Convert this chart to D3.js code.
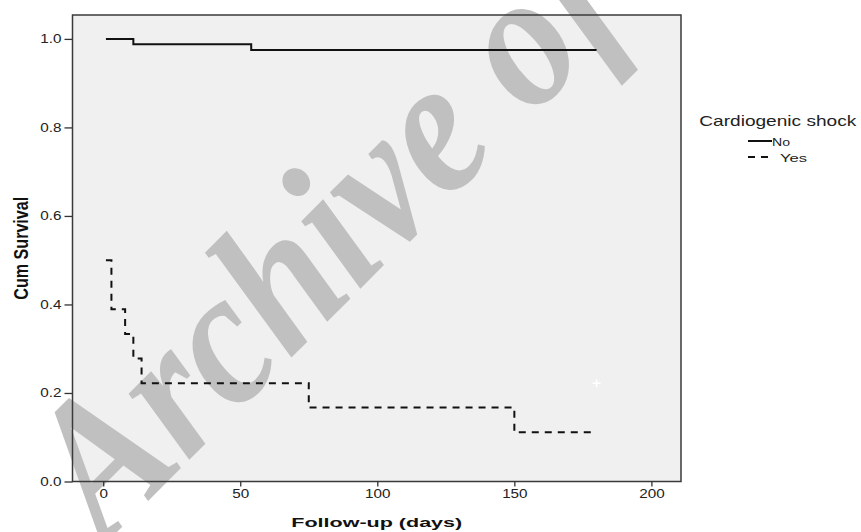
<!DOCTYPE html>
<html lang="en">

<head>
    <meta charset="UTF-8">
    <title>Cardiogenic shock survival</title>
    <script src="https://d3js.org/d3.v7.min.js"></script>
    <style>
        body {
            margin: 0;
            padding: 0;
            background-color: #fff;
            font-family: "Liberation Sans", Arial, sans-serif;
        }

        svg {
            display: block;
        }

        .watermark {
            font-family: "Liberation Serif", "DejaVu Serif", serif;
            font-style: italic;
            font-weight: bold;
        }
    </style>
</head>

<body>
    <svg id="chart" width="861" height="532"></svg>

    <script>
        // follow-up days where each curve steps, and the survival value from that day on
        var noDays = [1, 11, 54, 180];
        var noSurv = [1.0, 0.988, 0.975, 0.975];
        var yesDays = [1, 3, 8, 11, 14, 75, 150, 180];
        var yesSurv = [0.5, 0.389, 0.333, 0.278, 0.222, 0.167, 0.111, 0.111];
        var censorDays = [180];
        var censorSurv = [0.222];

        var xTicks = [0, 50, 100, 150, 200];
        var yTicks = [0, 0.2, 0.4, 0.6, 0.8, 1.0];
        var groups = ["No", "Yes"];

        function drawChart() {
            var svg = d3.select("#chart");
            var pLeft = 72.5, pRight = 681, pTop = 15, pBottom = 481.5;

            var x = d3.scaleLinear().domain([-11.2, 210.8]).range([pLeft, pRight]);
            var y = d3.scaleLinear().domain([0, 1.054]).range([pBottom, pTop]);

            // plot background
            svg.append("rect")
                .attr("x", pLeft).attr("y", pTop)
                .attr("width", pRight - pLeft).attr("height", pBottom - pTop)
                .attr("fill", "#f0f0f0");

            // watermark, sits under everything else
            var wm = svg.append("text")
                .attr("class", "watermark")
                .attr("transform", "translate(105,544) rotate(-45)")
                .attr("font-size", 195)
                .attr("fill", "#c0c0c0")
                .text("Archive of SID");
            wm.attr("textLength", wm.node().getComputedTextLength() * 0.89)
                .attr("lengthAdjust", "spacingAndGlyphs");

            // frame
            svg.append("rect")
                .attr("x", pLeft).attr("y", pTop)
                .attr("width", pRight - pLeft).attr("height", pBottom - pTop)
                .attr("fill", "none")
                .attr("stroke", "#3a3a3a")
                .attr("stroke-width", 1.5);

            function widen(sel, k) {
                sel.each(function () {
                    var w = this.getComputedTextLength();
                    d3.select(this).attr("textLength", w * k).attr("lengthAdjust", "spacingAndGlyphs");
                });
            }

            var yAxis = svg.append("g")
                .attr("transform", "translate(" + pLeft + ",0)")
                .call(d3.axisLeft(y).tickValues(yTicks).tickFormat(d3.format(".1f")).tickSize(8).tickPadding(3));
            var xAxis = svg.append("g")
                .attr("transform", "translate(0," + pBottom + ")")
                .call(d3.axisBottom(x).tickValues(xTicks).tickSize(5).tickPadding(3));

            [yAxis, xAxis].forEach(function (g) {
                g.select(".domain").remove();
                g.selectAll(".tick line").attr("stroke", "#333").attr("stroke-width", 1.3);
                g.selectAll(".tick text")
                    .attr("font-family", "'Liberation Sans', Arial, sans-serif")
                    .attr("font-size", 12.5)
                    .attr("fill", "#222");
                widen(g.selectAll(".tick text"), 1.22);
            });

            // axis titles
            svg.append("text")
                .attr("x", (pLeft + pRight) / 2).attr("y", 527)
                .attr("text-anchor", "middle")
                .attr("font-weight", "bold")
                .attr("font-size", 13)
                .attr("textLength", 171).attr("lengthAdjust", "spacingAndGlyphs")
                .attr("fill", "#111")
                .text("Follow-up (days)");

            svg.append("text")
                .attr("transform", "translate(28," + ((pTop + pBottom) / 2) + ") rotate(-90) scale(1,1.3)")
                .attr("text-anchor", "middle")
                .attr("font-weight", "bold")
                .attr("font-size", 16)
                .attr("textLength", 103).attr("lengthAdjust", "spacingAndGlyphs")
                .attr("fill", "#111")
                .text("Cum Survival");

            // survival curves
            var line = d3.line()
                .x(function (d) { return x(d[0]); })
                .y(function (d) { return y(d[1]); })
                .curve(d3.curveStepAfter);

            svg.append("path")
                .datum(d3.zip(noDays, noSurv))
                .attr("d", line)
                .attr("fill", "none")
                .attr("stroke", "#111")
                .attr("stroke-width", 2);

            svg.append("path")
                .datum(d3.zip(yesDays, yesSurv))
                .attr("d", line)
                .attr("fill", "none")
                .attr("stroke", "#111")
                .attr("stroke-width", 2)
                .attr("stroke-dasharray", "7,6");

            // censor mark
            svg.selectAll(".censor")
                .data(d3.zip(censorDays, censorSurv))
                .enter().append("path")
                .attr("class", "censor")
                .attr("d", function (d) {
                    var cx = x(d[0]), cy = y(d[1]);
                    return "M" + (cx - 4) + "," + cy + "H" + (cx + 4) + "M" + cx + "," + (cy - 4) + "V" + (cy + 4);
                })
                .attr("stroke", "#fff")
                .attr("stroke-width", 1.5);

            // legend
            svg.append("text")
                .attr("x", 699.3).attr("y", 126)
                .attr("font-size", 15)
                .attr("textLength", 157).attr("lengthAdjust", "spacingAndGlyphs")
                .attr("fill", "#222")
                .text("Cardiogenic shock");

            var legendY = [141, 157];
            var legendTextX = [772, 780];
            var legendTextW = [18, 27];
            groups.forEach(function (name, i) {
                svg.append("line")
                    .attr("x1", 748).attr("x2", 772)
                    .attr("y1", legendY[i]).attr("y2", legendY[i])
                    .attr("stroke", "#111")
                    .attr("stroke-width", 2)
                    .attr("stroke-dasharray", i === 1 ? "7,6" : null);
                svg.append("text")
                    .attr("x", legendTextX[i]).attr("y", legendY[i] + 4.5)
                    .attr("font-size", 11.5)
                    .attr("textLength", legendTextW[i]).attr("lengthAdjust", "spacingAndGlyphs")
                    .attr("fill", "#222")
                    .text(name);
            });
        }

        drawChart();
    </script>
</body>

</html>
